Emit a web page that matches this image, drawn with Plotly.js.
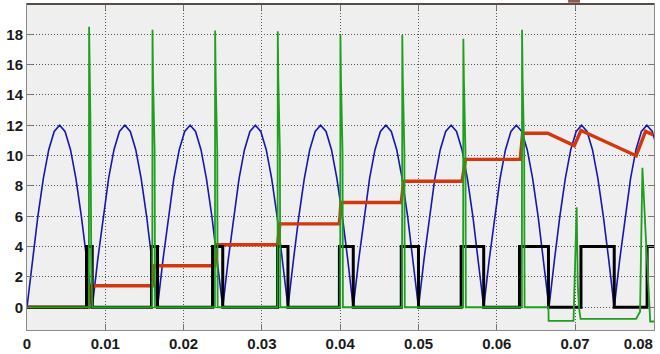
<!DOCTYPE html>
<html>
<head>
<meta charset="utf-8">
<script src="https://cdn.plot.ly/plotly-3.0.1.min.js"></script>
<style>html,body{margin:0;padding:0;background:#fff;}#chart{width:660px;height:354px;}</style>
</head>
<body>
<div id="chart"></div>
<script>
// ---- data ----
// rectified source voltage, sampled every 1/1440 s
var blueStep = 1 / 1440;
var blueV = [
  0,3.11,6,8.49,10.39,11.59,12,11.59,10.39,8.49,6,3.11,
  0,3.11,6,8.49,10.39,11.59,12,11.59,10.39,8.49,6,3.11,
  0,3.11,6,8.49,10.39,11.59,12,11.59,10.39,8.49,6,3.11,
  0,3.11,6,8.49,10.39,11.59,12,11.59,10.39,8.49,6,3.11,
  0,3.11,6,8.49,10.39,11.59,12,11.59,10.39,8.49,6,3.11,
  0,3.11,6,8.49,10.39,11.59,12,11.59,10.39,8.49,6,3.11,
  0,3.11,6,8.49,10.39,11.59,12,11.59,10.39,8.49,6,3.11,
  0,3.11,6,8.49,10.39,11.59,12,11.59,10.39,8.49,6,3.11,
  0,3.11,6,8.49,10.39,11.59,12,11.59,10.39,8.49,6,3.11,
  0,3.11,6,8.49,10.39,11.59,12,11.59,10.39
];

// gate pulses (step signal)
var blackT = [0, 0.0076, 0.00833, 0.0159, 0.01667, 0.0237, 0.025, 0.0320, 0.03333, 0.0399, 0.04167,
              0.0478, 0.05, 0.05545, 0.05833, 0.0629, 0.0666, 0.07075, 0.075, 0.0792, 0.081];
var blackV = [0, 4, 0, 4, 0, 4, 0, 4, 0, 4, 0, 4, 0, 4, 0, 4, 0, 4, 0, 4, 4];

// capacitor voltage (staircase)
var redT = [0, 0.0079, 0.0081, 0.0160, 0.0162, 0.0240, 0.0242, 0.0320, 0.0323, 0.0399, 0.0401,
            0.0478, 0.0481, 0.05557, 0.0560, 0.0630, 0.0633, 0.0665, 0.0699, 0.07075, 0.0778, 0.0790, 0.0800];
var redV = [0, 0, 1.42, 1.42, 2.74, 2.74, 4.12, 4.12, 5.5, 5.5, 6.91,
            6.91, 8.31, 8.31, 9.75, 9.75, 11.48, 11.48, 10.66, 11.66, 9.99, 11.6, 11.37];

// current
var greenT = [0,
  0.0079, 0.00793, 0.0080, 0.0081, 0.0082, 0.00833,
  0.0160, 0.01603, 0.0161, 0.0163, 0.01635,
  0.0240, 0.02403, 0.0241, 0.0243, 0.02435,
  0.0320, 0.03203, 0.0321, 0.0323, 0.03235,
  0.0400, 0.04003, 0.0401, 0.0403, 0.04035,
  0.0479, 0.04793, 0.0480, 0.0482, 0.04825,
  0.0557, 0.05573, 0.0558, 0.0560, 0.05605,
  0.0632, 0.06323, 0.0633, 0.0635, 0.06355,
  0.0666, 0.06662, 0.0698, 0.0702, 0.07035, 0.0705, 0.0707,
  0.0778, 0.0783, 0.0786, 0.0790, 0.0795, 0.0796, 0.081];
var greenV = [0,
  0, 18.5, 15.6, 12.4, 4, 0,
  0, 18.3, 15, 10.3, 0,
  0, 18.25, 15, 10.3, 0,
  0, 18.2, 15, 10.3, 0,
  0, 17.96, 15, 10.3, 0,
  0, 17.96, 15, 10.3, 0,
  0, 17.7, 15, 10.3, 0,
  0, 18.3, 15, 10.3, 0,
  0, -0.9, -0.9, 6.6, 1.4, 0, -0.76,
  -0.76, -0.3, 9.2, 5, 0, -0.94, -0.94];

var xTickVals = [0, 0.01, 0.02, 0.03, 0.04, 0.05, 0.06, 0.07, 0.08];
var xTickText = ['0', '0.01', '0.02', '0.03', '0.04', '0.05', '0.06', '0.07', ''];
var xLastTickVals = [0.08];
var xLastTickText = ['0.08'];
var yTickVals = [0, 2, 4, 6, 8, 10, 12, 14, 16, 18];
var yTickText = ['0', '2', '4', '6', '8', '10', '12', '14', '16', '18'];

// ---- build ----
var blueT = blueV.map(function (v, i) { return i * blueStep; });

var traces = [
  {x: blueT, y: blueV, type: 'scatter', mode: 'lines', line: {color: '#1616b0', width: 1.6}},
  {x: redT, y: redV, type: 'scatter', mode: 'lines', line: {color: '#d2380f', width: 3.4}},
  {x: blackT, y: blackV, type: 'scatter', mode: 'lines', line: {color: '#000000', width: 3, shape: 'hv'}},
  {x: greenT, y: greenV, type: 'scatter', mode: 'lines', line: {color: '#1f9e1f', width: 1.8}},
  {x: [], y: [], xaxis: 'x2', type: 'scatter', mode: 'lines', hoverinfo: 'skip'}
];

var tickFont = {family: 'Liberation Sans, Arial, sans-serif', size: 15, color: '#1a1a1a', weight: 'bold'};

var axisCommon = {
  showline: true, linecolor: '#8a8a8a', linewidth: 1, mirror: 'ticks',
  ticks: 'inside', ticklen: 6, tickcolor: '#777', tickwidth: 1,
  showgrid: true, gridcolor: '#555', gridwidth: 1, griddash: '1px,2px',
  zeroline: false, tickfont: tickFont, fixedrange: true
};

var xRange = [0, 0.08008];

var layout = {
  width: 660, height: 354,
  margin: {l: 27, r: 6, t: 4, b: 24},
  paper_bgcolor: '#ffffff', plot_bgcolor: '#efefef',
  showlegend: false,
  xaxis: Object.assign({}, axisCommon, {range: xRange, tickmode: 'array', tickvals: xTickVals, ticktext: xTickText}),
  xaxis2: {overlaying: 'x', side: 'bottom', range: xRange, tickmode: 'array', tickvals: xLastTickVals, ticktext: xLastTickText,
           ticks: '', showline: true, linecolor: '#8a8a8a', linewidth: 1, showgrid: false, zeroline: false, tickfont: tickFont,
           ticklabelposition: 'outside left', fixedrange: true},
  yaxis: Object.assign({}, axisCommon, {range: [-1.5, 20], tickmode: 'array', tickvals: yTickVals, ticktext: yTickText}),
  shapes: [
    {type: 'line', xref: 'paper', yref: 'paper', x0: 0, x1: 1, y0: 1, y1: 1, line: {color: '#5a4a48', width: 2}},
    {type: 'rect', xref: 'paper', yref: 'paper', x0: 0.863, x1: 0.882, y0: 1.004, y1: 1.015, line: {width: 0}, fillcolor: '#8b5a50'}
  ]
};

Plotly.newPlot('chart', traces, layout, {staticPlot: true, displayModeBar: false});
</script>
</body>
</html>
